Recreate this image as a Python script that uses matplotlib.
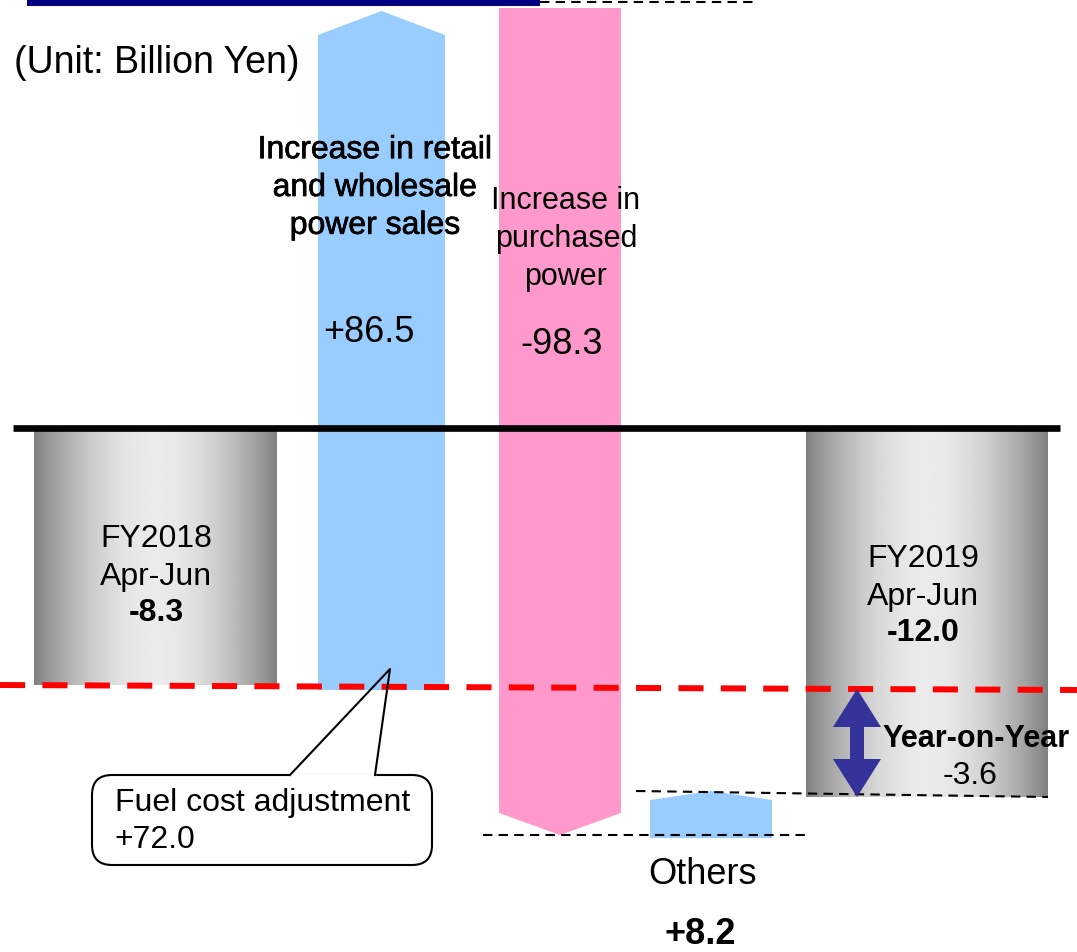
import numpy as np
import matplotlib
matplotlib.use('Agg')
from matplotlib import pyplot as plt
from matplotlib import patheffects
from matplotlib.patches import Polygon, FancyBboxPatch

plt.rcParams['font.family'] = ['Liberation Sans', 'DejaVu Sans']

# data (billion yen)
unit_label = '(Unit: Billion Yen)'
base_labels = ['FY2018\nApr-Jun', 'FY2019\nApr-Jun']
base_values = [-8.3, -12.0]
step_labels = ['Increase in retail\nand wholesale\npower sales', 'Increase in\npurchased\npower', 'Others']
step_values = [86.5, -98.3, 8.2]
yoy_value = -3.6
fuel_label = 'Fuel cost adjustment'
fuel_value = 72.0

# schematic layout (not to scale, in pixels of the 1077x952 canvas)
zero_y = 428
base_x = [(34, 277), (806, 1048)]
base_bottom = [685, 797]
step_x = [(318, 445), (499, 621), (650, 772)]
step_span = [(690, 35), (8, 813), (838, 800)]   # (start, end of body)
step_tip = [24, 22, 9]

BLUE = '#99ccff'
PINK = '#ff99cc'
NAVY = '#000080'
ARROW = '#333399'


def fmt(v):
    return f'{v:+.1f}'.replace('+-', '-')


def gradient_bar(ax, x0, x1, y0, y1):
    t = np.linspace(0, 1, 256)
    shade = 0.5 + 0.42 * np.sin(np.pi * t) ** 0.9
    ax.imshow(shade[None, :], extent=(x0, x1, y1, y0), cmap='gray',
              vmin=0, vmax=1, aspect='auto', interpolation='bilinear', zorder=2)


def block_arrow(ax, x0, x1, start, end, tip, color):
    d = 1 if end > start else -1
    xm = (x0 + x1) / 2
    pts = [(x0, start), (x0, end), (xm, end + d * tip), (x1, end), (x1, start)]
    ax.add_patch(Polygon(pts, closed=True, facecolor=color, edgecolor='none', zorder=2))


fig = plt.figure(figsize=(10.77, 9.52), dpi=100)
ax = fig.add_axes([0, 0, 1, 1])

# base bars
for (x0, x1), yb in zip(base_x, base_bottom):
    gradient_bar(ax, x0, x1, zero_y + 3, yb)

ax.text(156, 558, base_labels[0], ha='center', va='center', fontsize=23, linespacing=1.36, zorder=5)
ax.text(156, 613, fmt(base_values[0]), ha='center', va='center', fontsize=23, fontweight='bold', zorder=5)
ax.text(923, 578, base_labels[1], ha='center', va='center', fontsize=23, linespacing=1.36, zorder=5)
ax.text(923, 633, fmt(base_values[1]), ha='center', va='center', fontsize=23, fontweight='bold', zorder=5)

# step arrows
colors = [BLUE, PINK, BLUE]
for (x0, x1), (s, e), tp, c in zip(step_x, step_span, step_tip, colors):
    block_arrow(ax, x0, x1, s, e, tp, c)

heavy = [patheffects.withStroke(linewidth=0.5, foreground='black')]
ax.text(375, 188, step_labels[0], ha='center', va='center', fontsize=23,
        linespacing=1.34, zorder=5, path_effects=heavy)
ax.text(369, 332, fmt(step_values[0]), ha='center', va='center', fontsize=26, zorder=5)
ax.text(566, 239, step_labels[1], ha='center', va='center', fontsize=22, linespacing=1.36, zorder=5)
ax.text(562, 345, fmt(step_values[1]), ha='center', va='center', fontsize=26, zorder=5)
ax.text(703, 875, step_labels[2], ha='center', va='center', fontsize=26, zorder=5)
ax.text(700, 935, fmt(step_values[2]), ha='center', va='center', fontsize=26, fontweight='bold', zorder=5)

# lines
ax.plot([13, 1060], [zero_y, zero_y], color='black', lw=4.8, solid_capstyle='butt', zorder=4)
ax.add_patch(Polygon([(27, -4), (540, -4), (540, 6), (27, 6)], closed=True,
                     facecolor=NAVY, edgecolor='none', zorder=4))
ax.plot([540, 757], [2, 2], color='black', lw=1.5, linestyle=(0, (4.5, 3)), zorder=3)
ax.plot([483, 805], [835, 835], color='black', lw=1.5, linestyle=(0, (4.5, 3)), zorder=3)
ax.plot([636, 1048], [791, 797], color='black', lw=1.5, linestyle=(0, (4.5, 3)), zorder=3)
ax.plot([0, 1077], [685, 690], color='red', lw=4.3, linestyle=(0, (4.2, 2.9)), zorder=4)

# year-on-year double arrow
xc, ya, yb = 857, 689, 797
hw, hl, sw = 24, 38, 7
pts = [(xc, ya), (xc + hw, ya + hl), (xc + sw, ya + hl), (xc + sw, yb - hl), (xc + hw, yb - hl),
       (xc, yb), (xc - hw, yb - hl), (xc - sw, yb - hl), (xc - sw, ya + hl), (xc - hw, ya + hl)]
ax.add_patch(Polygon(pts, closed=True, facecolor=ARROW, edgecolor='none', zorder=5))
ax.text(882, 739, 'Year-on-Year', ha='left', va='center', fontsize=22, fontweight='bold', zorder=6)
ax.text(970, 776, fmt(yoy_value), ha='center', va='center', fontsize=23, zorder=6)

# fuel cost callout
box = FancyBboxPatch((92, 775), 340, 90, boxstyle='round,pad=0,rounding_size=20',
                     facecolor='white', edgecolor='black', lw=1.5, zorder=6)
ax.add_patch(box)
ax.plot([291, 374], [775, 775], color='white', lw=2.5, zorder=7)
ax.plot([290, 390, 375], [775, 669, 775], color='black', lw=1.5, zorder=7)
ax.text(115, 803, fuel_label, ha='left', va='center', fontsize=23, zorder=8)
ax.text(115, 840, fmt(fuel_value), ha='left', va='center', fontsize=23, zorder=8)

ax.text(14, 63, unit_label, ha='left', va='center', fontsize=27, zorder=5)

ax.set_xlim(0, 1077)
ax.set_ylim(952, 0)
ax.axis('off')
fig.savefig('out.png', dpi=100)
